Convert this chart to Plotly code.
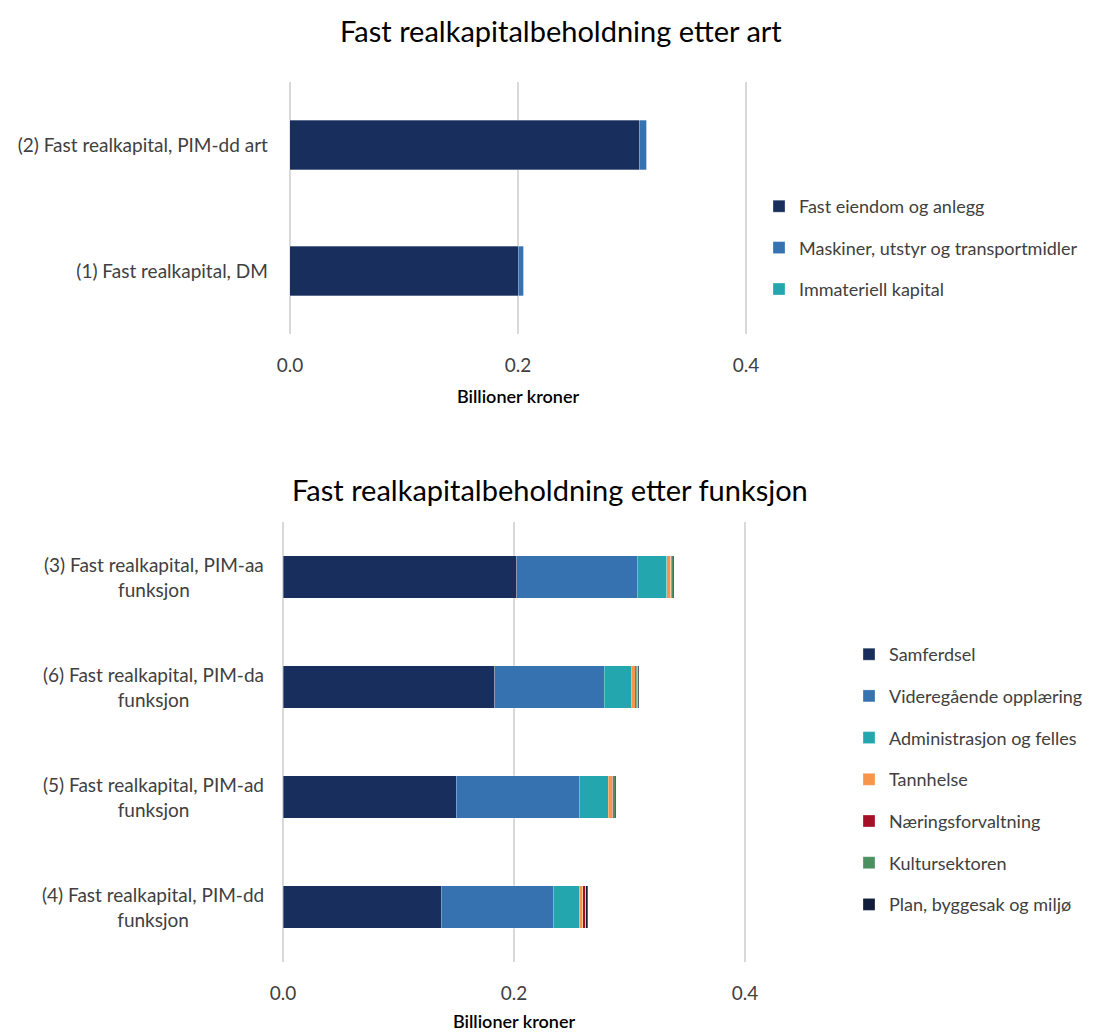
import plotly.graph_objects as go

# ---- Data: top chart (by type) ----
art_categories = ["(1) Fast realkapital, DM", "(2) Fast realkapital, PIM-dd art"]
art_series = ["Fast eiendom og anlegg", "Maskiner, utstyr og transportmidler", "Immateriell kapital"]
art_fast_eiendom = [0.200, 0.307]
art_maskiner = [0.005, 0.006]
art_immateriell = [0.0, 0.0]

# ---- Data: bottom chart (by function) ----
fun_categories = [
    "(3) Fast realkapital, PIM-aa<br>funksjon",
    "(6) Fast realkapital, PIM-da<br>funksjon",
    "(5) Fast realkapital, PIM-ad<br>funksjon",
    "(4) Fast realkapital, PIM-dd<br>funksjon",
]
fun_series = ["Samferdsel", "Videregående opplæring", "Administrasjon og felles",
              "Tannhelse", "Næringsforvaltning", "Kultursektoren", "Plan, byggesak og miljø"]
fun_samferdsel = [0.2023, 0.1835, 0.1498, 0.1368]
fun_videregaende = [0.1045, 0.0947, 0.1065, 0.0972]
fun_administrasjon = [0.0254, 0.0231, 0.0254, 0.0226]
fun_tannhelse = [0.0035, 0.0035, 0.0032, 0.0030]
fun_naering = [0.0010, 0.0010, 0.0008, 0.0023]
fun_kultur = [0.0010, 0.0015, 0.0020, 0.0003]
fun_plan = [0.0012, 0.0005, 0.0008, 0.0015]

x_ticks = [0.0, 0.2, 0.4]
x_ticklabels = ["0.0", "0.2", "0.4"]

FONT = "Lato"
TXT = "#404040"
art_colors = ["#182F5D", "#3672B0", "#23A6AE"]
fun_colors = ["#182F5D", "#3672B0", "#23A6AE", "#F7954A", "#A50F28", "#4A9060", "#101C3A"]

fig = go.Figure()

art_values = [art_fast_eiendom, art_maskiner, art_immateriell]
for name, vals, col in zip(art_series, art_values, art_colors):
    fig.add_trace(go.Bar(
        y=art_categories, x=vals, name=name, orientation="h",
        marker=dict(color=col, line=dict(color="rgba(255,255,255,0.6)", width=0.5)),
        xaxis="x", yaxis="y", legend="legend", legendgroup=name,
    ))

fun_values = [fun_samferdsel, fun_videregaende, fun_administrasjon, fun_tannhelse,
              fun_naering, fun_kultur, fun_plan]
for name, vals, col in zip(fun_series, fun_values, fun_colors):
    fig.add_trace(go.Bar(
        y=fun_categories, x=vals, name=name, orientation="h",
        marker=dict(color=col, line=dict(color="rgba(255,255,255,0.6)", width=0.5)),
        xaxis="x2", yaxis="y2", legend="legend2", legendgroup="f_" + name,
    ))

# The page body has an 8px margin, so the figure is sized/placed to compensate.
OFF = 8
W, H = 1101 - OFF, 1032 - OFF
px = lambda v: (v - OFF) / W
py = lambda v: 1 - (v - OFF) / H

axis_common = dict(
    range=[-0.002, 0.402], tickvals=x_ticks, ticktext=x_ticklabels, automargin=False,
    showgrid=True, gridcolor="#D9D9D9", gridwidth=1.5, zeroline=False,
    showline=False, tickfont=dict(family=FONT, size=19, color=TXT),
    ticks="outside", ticklen=14, tickcolor="rgba(0,0,0,0)",
)
xtitle = dict(text="Billioner kroner", font=dict(family=FONT, size=18, color="black", weight=600),
              standoff=15)

fig.update_layout(
    width=W, height=H, margin=dict(l=0, r=0, t=0, b=0, autoexpand=False),
    paper_bgcolor="white", plot_bgcolor="white",
    barmode="stack", bargap=0.61,
    font=dict(family=FONT, color=TXT),
    xaxis=dict(domain=[px(287.7), px(748.3)], anchor="y", **axis_common, title=xtitle),
    yaxis=dict(domain=[py(334), py(82)], anchor="x", showgrid=False, zeroline=False, automargin=False,
               tickfont=dict(family=FONT, size=19, color=TXT),
               ticks="outside", ticklen=15, tickcolor="rgba(0,0,0,0)"),
    xaxis2=dict(domain=[px(280.7), px(747.3)], anchor="y2", **axis_common, title=xtitle),
    yaxis2=dict(domain=[py(962), py(522)], anchor="x2", showgrid=False, zeroline=False, automargin=False,
                autorange="reversed", showticklabels=False),
    legend=dict(x=px(759), y=py(188), xanchor="left", yanchor="top",
                font=dict(family=FONT, size=18, color=TXT), tracegroupgap=15,
                itemwidth=30, traceorder="grouped", bgcolor="rgba(0,0,0,0)"),
    legend2=dict(x=px(849), y=py(636), xanchor="left", yanchor="top",
                 font=dict(family=FONT, size=18, color=TXT), tracegroupgap=15.3,
                 itemwidth=30, traceorder="grouped", bgcolor="rgba(0,0,0,0)"),
    showlegend=True,
)

# Chart titles
fig.add_annotation(text="Fast realkapitalbeholdning etter art", xref="paper", yref="paper",
                   x=px(561), y=py(30), xanchor="center", yanchor="middle", showarrow=False,
                   font=dict(family=FONT, size=29, color="black"))
fig.add_annotation(text="Fast realkapitalbeholdning etter funksjon", xref="paper", yref="paper",
                   x=px(550), y=py(489), xanchor="center", yanchor="middle", showarrow=False,
                   font=dict(family=FONT, size=29, color="black"))

# Centered two-line category labels for the bottom chart
for cat in fun_categories:
    fig.add_annotation(text=cat, xref="paper", yref="y2", x=px(266), y=cat,
                       xanchor="right", yanchor="middle", align="center", showarrow=False,
                       font=dict(family=FONT, size=19, color=TXT))

fig.write_html("out.html")
